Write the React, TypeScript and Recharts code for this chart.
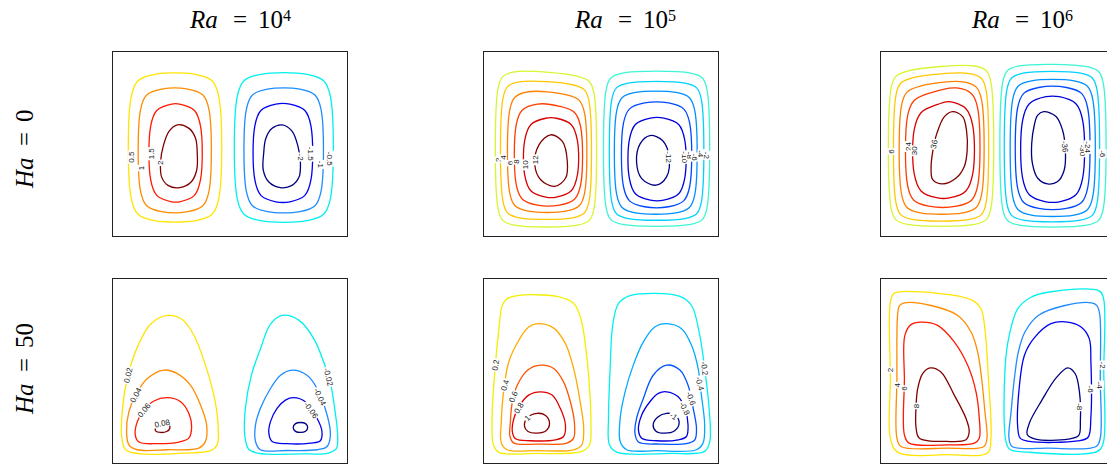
import React from "react";
import { ComposedChart, Line, Scatter, XAxis, YAxis } from "recharts";

type Label = { x: number; y: number; text: string; rot: number };

// Each contour: flat list of points x1,y1,x2,y2,... in panel units (0-100, y up)

// Ra = 10^4, Ha = 0
const r4h0Contours: number[][] = [
  [17.8, 87.9, 35.2, 87.9, 42.3, 84.4, 45.2, 75.9, 45.2, 20.3, 42.3, 11.8, 35.2, 8.3, 17.8, 8.3, 10.7, 11.8, 7.8, 20.3, 7.8, 75.9, 10.7, 84.4],
  [20.8, 79.8, 32.0, 79.8, 38.4, 76.6, 41.0, 68.8, 41.0, 24.2, 38.4, 16.4, 32.0, 13.2, 20.8, 13.2, 14.4, 16.4, 11.8, 24.2, 11.8, 68.8, 14.4, 76.6],
  [25.1, 71.7, 28.4, 71.7, 34.8, 68.2, 37.4, 59.7, 37.4, 30.6, 34.8, 22.1, 28.4, 18.6, 25.1, 18.6, 18.7, 22.1, 16.1, 30.6, 16.1, 59.7, 18.7, 68.2],
  [27.5, 60.4, 32.5, 58.5, 35.3, 53, 36, 45, 35.8, 36, 33.5, 29.5, 28.5, 26.3, 23.5, 27.5, 20.8, 32, 20.3, 40, 21.5, 49, 24, 57],
  [63.1, 87.9, 82.9, 87.9, 90.0, 84.4, 92.9, 75.9, 92.9, 20.3, 90.0, 11.8, 82.9, 8.3, 63.1, 8.3, 56.0, 11.8, 53.1, 20.3, 53.1, 75.9, 56.0, 84.4],
  [66.0, 79.8, 79.9, 79.8, 86.3, 76.6, 88.9, 68.8, 88.9, 24.2, 86.3, 16.4, 79.9, 13.2, 66.0, 13.2, 59.6, 16.4, 57.0, 24.2, 57.0, 68.8, 59.6, 76.6],
  [69.6, 71.7, 75.6, 71.7, 82.0, 68.2, 84.6, 59.7, 84.6, 30.6, 82.0, 22.1, 75.6, 18.6, 69.6, 18.6, 63.2, 22.1, 60.6, 30.6, 60.6, 59.7, 63.2, 68.2],
  [72.3, 60.4, 76.5, 57, 79, 49, 80.1, 40, 79.5, 32, 76.5, 27.5, 71.5, 26.3, 66.5, 29.5, 64.2, 36, 64.4, 45, 65.3, 53, 68, 58.5],
];
const r4h0Labels: Label[] = [
  { x: 7.8, y: 42.9, text: "0.5", rot: -90 },
  { x: 11.8, y: 36.9, text: "1", rot: -90 },
  { x: 16.1, y: 44.7, text: "1.5", rot: -90 },
  { x: 20.3, y: 39.8, text: "2", rot: -90 },
  { x: 80.1, y: 42.9, text: "-2", rot: 90 },
  { x: 84.6, y: 44.7, text: "-1.5", rot: 90 },
  { x: 88.9, y: 38.9, text: "-1", rot: 90 },
  { x: 92.9, y: 42.0, text: "-0.5", rot: 90 },
];

// Ra = 10^5, Ha = 0
const r5h0Contours: number[][] = [
  [13.0, 89.2, 40.0, 86.8, 45.0, 84.0, 47.0, 77.5, 47.0, 14.9, 45.0, 8.5, 40.0, 5.9, 13.0, 5.9, 8.0, 8.5, 6.0, 14.9, 6.0, 80.2, 8.0, 86.6],
  [15.1, 83.8, 37.9, 82.2, 42.9, 79.4, 44.9, 73.0, 44.9, 18.9, 42.9, 12.5, 37.9, 9.9, 15.1, 9.9, 10.1, 12.5, 8.1, 18.9, 8.1, 74.8, 10.1, 81.2],
  [19.0, 78.4, 35.0, 76.8, 40.7, 73.7, 43.0, 66.6, 43.0, 23.5, 40.7, 16.4, 35.0, 13.5, 19.0, 13.5, 13.3, 16.4, 11.0, 23.5, 11.0, 68.4, 13.3, 75.5],
  [22.8, 71.7, 32.3, 70.5, 38.7, 67.1, 41.3, 59.3, 41.3, 27.8, 38.7, 20.0, 32.3, 16.8, 22.8, 16.8, 16.4, 20.0, 13.8, 27.8, 13.8, 60.7, 16.4, 68.5],
  [26.4, 64.0, 30.9, 64.0, 37.3, 60.5, 39.9, 52.0, 39.9, 33.1, 37.3, 24.6, 30.9, 21.1, 26.4, 21.1, 20.0, 24.6, 17.4, 33.1, 17.4, 52.0, 20.0, 60.5],
  [28.5, 55.0, 33.5, 51.4, 35.6, 40.5, 34.9, 31.5, 30.2, 27.0, 24.2, 30.6, 21.7, 38.7, 23.5, 49.5],
  [59.2, 88.5, 88.3, 88.5, 93.3, 85.9, 95.3, 79.5, 95.3, 15.3, 93.3, 8.9, 88.3, 6.3, 59.2, 6.3, 54.2, 8.9, 52.2, 15.3, 52.2, 79.5, 54.2, 85.9],
  [61.6, 83.1, 85.9, 83.1, 90.9, 80.5, 92.9, 74.1, 92.9, 18.5, 90.9, 12.1, 85.9, 9.5, 61.6, 9.5, 56.6, 12.1, 54.6, 18.5, 54.6, 74.1, 56.6, 80.5],
  [64.7, 78.0, 82.1, 78.0, 87.8, 75.1, 90.1, 68.0, 90.1, 22.6, 87.8, 15.5, 82.1, 12.6, 64.7, 12.6, 59.0, 15.5, 56.7, 22.6, 56.7, 68.0, 59.0, 75.1],
  [68.6, 72.3, 78.9, 72.3, 85.3, 69.1, 87.9, 61.3, 87.9, 26.9, 85.3, 19.1, 78.9, 15.9, 68.6, 15.9, 62.2, 19.1, 59.6, 26.9, 59.6, 61.3, 62.2, 69.1],
  [71.1, 64.1, 76.8, 64.1, 83.2, 60.6, 85.8, 52.1, 85.8, 31.5, 83.2, 23.0, 76.8, 19.5, 71.1, 19.5, 64.7, 23.0, 62.1, 31.5, 62.1, 52.1, 64.7, 60.6],
  [70.9, 54.6, 76.3, 51.9, 79.1, 42.9, 78.0, 32.1, 73.5, 27.6, 67.4, 31.2, 65.2, 40.2, 66.7, 50.1],
];
const r5h0Labels: Label[] = [
  { x: 6.0, y: 41.4, text: "2", rot: -90 },
  { x: 8.1, y: 42.7, text: "4", rot: -90 },
  { x: 11.0, y: 39.6, text: "6", rot: -90 },
  { x: 13.8, y: 40.5, text: "8", rot: -90 },
  { x: 17.4, y: 38.7, text: "10", rot: -90 },
  { x: 21.7, y: 41.4, text: "12", rot: -90 },
  { x: 79.1, y: 42.9, text: "-12", rot: 90 },
  { x: 85.8, y: 42.9, text: "-10", rot: 90 },
  { x: 87.9, y: 43.8, text: "-8", rot: 90 },
  { x: 90.1, y: 42.9, text: "-6", rot: 90 },
  { x: 92.9, y: 44.7, text: "-4", rot: 90 },
  { x: 95.3, y: 43.8, text: "-2", rot: 90 },
];

// Ra = 10^6, Ha = 0
const r6h0Contours: number[][] = [
  [11.3, 89.6, 40.0, 92.4, 45.0, 89.8, 47.0, 83.4, 47.0, 15.3, 45.0, 8.9, 40.0, 6.3, 11.3, 6.3, 6.3, 8.9, 4.3, 15.3, 4.3, 80.2, 6.3, 86.6],
  [13.4, 86.0, 37.9, 88.3, 42.9, 85.7, 44.9, 79.3, 44.9, 18.0, 42.9, 11.6, 37.9, 9.0, 13.4, 9.0, 8.4, 11.6, 6.4, 18.0, 6.4, 76.6, 8.4, 83.0],
  [16.8, 81.5, 35.0, 83.8, 40.7, 80.9, 43.0, 73.8, 43.0, 22.6, 40.7, 15.5, 35.0, 12.6, 16.8, 12.6, 11.1, 15.5, 8.8, 22.6, 8.8, 71.1, 11.1, 78.2],
  [20.4, 77.5, 32.3, 80.5, 38.7, 77.3, 41.3, 69.5, 41.3, 27.2, 38.7, 19.4, 32.3, 16.2, 20.4, 16.2, 14.0, 19.4, 11.4, 27.2, 11.4, 65.6, 14.0, 73.4],
  [24.2, 71.5, 29.2, 73.0, 36.3, 69.2, 39.2, 60.0, 39.2, 33.7, 36.3, 24.5, 29.2, 20.7, 24.2, 20.7, 17.1, 24.5, 14.2, 33.7, 14.2, 57.8, 17.1, 67.0],
  [30.6, 67.6, 34.9, 64.9, 36.6, 56.8, 36.8, 46.0, 35.6, 37.8, 32.1, 31.5, 26.4, 28.3, 22.1, 30.6, 21.4, 36.9, 22.1, 45.9, 23.9, 55.9, 27.1, 64.9],
  [59.0, 92.4, 88.0, 92.0, 93.0, 89.4, 95.0, 83.0, 95.0, 14.9, 93.0, 8.5, 88.0, 5.9, 59.0, 5.9, 54.0, 8.5, 52.0, 14.9, 52.0, 83.4, 54.0, 89.8],
  [60.8, 88.5, 85.3, 88.5, 90.3, 85.9, 92.3, 79.5, 92.3, 17.6, 90.3, 11.2, 85.3, 8.6, 60.8, 8.6, 55.8, 11.2, 53.8, 17.6, 53.8, 79.5, 55.8, 85.9],
  [64.3, 84.3, 82.5, 84.3, 88.2, 81.4, 90.5, 74.3, 90.5, 21.4, 88.2, 14.3, 82.5, 11.4, 64.3, 11.4, 58.6, 14.3, 56.3, 21.4, 56.3, 74.3, 58.6, 81.4],
  [67.4, 80.7, 79.3, 80.7, 85.7, 77.5, 88.3, 69.7, 88.3, 26.0, 85.7, 18.2, 79.3, 15.0, 67.4, 15.0, 61.0, 18.2, 58.4, 26.0, 58.4, 69.7, 61.0, 77.5],
  [70.5, 75.7, 76.2, 75.7, 83.3, 71.9, 86.2, 62.7, 86.2, 31.6, 83.3, 22.4, 76.2, 18.6, 70.5, 18.6, 63.4, 22.4, 60.5, 31.6, 60.5, 62.7, 63.4, 71.9],
  [69.5, 67.6, 74.8, 65.0, 77.6, 57.5, 78.8, 46.7, 78.3, 35.9, 75.5, 29.6, 71.2, 28.3, 67.0, 31.4, 64.7, 39.5, 64.4, 50.3, 65.5, 60.2, 66.9, 65.6],
];
const r6h0Labels: Label[] = [
  { x: 4.3, y: 45.9, text: "6", rot: -90 },
  { x: 11.4, y: 48.6, text: "24", rot: -90 },
  { x: 14.2, y: 46.3, text: "30", rot: -90 },
  { x: 22.6, y: 49.9, text: "36", rot: -78 },
  { x: 78.6, y: 48.6, text: "-36", rot: 84 },
  { x: 86.2, y: 46.5, text: "-30", rot: 90 },
  { x: 88.3, y: 48.3, text: "-24", rot: 90 },
  { x: 94.8, y: 44.7, text: "-6", rot: 90 },
];

// Ra = 10^4, Ha = 50
const r4h50Contours: number[][] = [
  [23.2, 80.2, 29.6, 78.0, 34.6, 69.4, 39.5, 53.2, 43.1, 36.9, 44.8, 22.5, 44.5, 9.9, 41.7, 6.7, 30.3, 5.4, 11.8, 5.0, 5.4, 7.2, 3.7, 14.4, 4.1, 29.7, 6.4, 47.7, 10.7, 63.8, 16.1, 75.5],
  [21.8, 50.5, 27.5, 48.6, 33.1, 42.3, 37.4, 31.5, 40.0, 20.7, 39.5, 11.7, 36.7, 8.1, 23.2, 7.2, 10.4, 7.2, 6.8, 9.9, 5.8, 17.1, 6.8, 27.9, 9.7, 36.9, 14.7, 45.9],
  [23.2, 35.5, 28.9, 33.3, 32.4, 27.0, 33.6, 19.8, 32.4, 13.5, 28.2, 11.4, 18.9, 10.5, 11.1, 11.4, 9.5, 15.3, 10.4, 22.5, 13.2, 28.8, 17.5, 33.7],
  [18.2, 19.3, 19.2, 21.1, 21.8, 21.6, 23.9, 20.7, 24.3, 18.9, 22.9, 17.1, 20.3, 16.6, 18.2, 17.5],
  [72.3, 80.2, 79.5, 77.5, 85.8, 67.6, 90.0, 55.0, 93.0, 43.0, 94.7, 30.0, 96.0, 15.0, 95.5, 8.0, 92.0, 5.4, 80.0, 5.0, 62.5, 5.2, 58.0, 7.5, 56.3, 15.0, 56.6, 30.0, 59.2, 48.0, 63.0, 62.0, 67.3, 75.5],
  [76.5, 50.5, 82.9, 47.7, 87.2, 40.5, 91.5, 26.1, 92.9, 15.3, 91.5, 9.0, 87.2, 7.2, 74.4, 6.8, 63.0, 7.2, 60.9, 11.7, 60.9, 20.7, 63.0, 29.7, 67.3, 40.5, 71.6, 47.7],
  [77.2, 35.5, 82.2, 33.3, 87.2, 24.3, 89.3, 17.1, 88.6, 12.1, 84.4, 10.8, 74.4, 10.5, 68.0, 11.7, 66.6, 16.2, 67.3, 22.5, 70.1, 29.7, 73.7, 34.2],
  [77.0, 19.3, 78.0, 21.4, 80.1, 22.0, 82.3, 21.4, 83.2, 19.3, 82.3, 17.2, 80.1, 16.6, 78.0, 17.2],
];
const r4h50Labels: Label[] = [
  { x: 6.4, y: 47.7, text: "0.02", rot: -76 },
  { x: 9.7, y: 36.9, text: "0.04", rot: -61 },
  { x: 13.2, y: 28.8, text: "0.06", rot: -51 },
  { x: 21.0, y: 21.6, text: "0.08", rot: -12 },
  { x: 92.1, y: 46.8, text: "-0.02", rot: 76 },
  { x: 88.5, y: 36.0, text: "-0.04", rot: 65 },
  { x: 84.7, y: 28.8, text: "-0.06", rot: 55 },
];

// Ra = 10^5, Ha = 50
const r5h50Contours: number[][] = [
  [14.2, 91.0, 31.2, 90.5, 38.3, 86.8, 41.4, 78.4, 43.7, 60.4, 45.1, 40.5, 45.7, 22.5, 45.1, 9.9, 41.8, 6.3, 22.7, 5.2, 6.4, 5.8, 4.0, 9.9, 3.5, 26.1, 4.5, 47.7, 6.4, 73.0, 7.8, 85.6, 9.8, 89.2],
  [23.4, 75.7, 29.8, 73.3, 34.8, 64.9, 38.3, 51.4, 41.1, 33.3, 42.6, 18.9, 41.8, 9.9, 38.3, 7.2, 22.7, 6.7, 9.9, 7.2, 7.4, 10.8, 7.4, 22.5, 8.2, 36.9, 10.6, 55.0, 14.9, 66.7, 19.1, 73.9],
  [24.1, 53.2, 29.8, 51.4, 34.0, 44.1, 36.9, 33.3, 38.6, 22.5, 38.3, 13.5, 35.5, 10.8, 22.7, 10.3, 12.8, 10.8, 11.1, 14.4, 11.3, 22.5, 11.9, 31.5, 14.3, 42.5, 19.0, 50.8],
  [24.1, 38.7, 29.1, 36.9, 32.6, 29.7, 34.8, 20.7, 34.0, 14.4, 30.5, 12.6, 19.9, 12.1, 13.5, 13.2, 12.1, 17.1, 12.8, 24.3, 14.9, 30.6, 19.1, 36.9],
  [22.7, 27.0, 26.3, 25.8, 28.0, 21.6, 26.5, 17.5, 22.7, 16.2, 18.8, 17.1, 17.3, 20.0, 18.5, 24.5],
  [62.4, 91.0, 83.7, 90.6, 88.7, 85.6, 92.2, 69.4, 94.3, 51.4, 96.2, 29.7, 96.5, 11.7, 94.3, 6.3, 79.4, 5.2, 56.7, 5.9, 53.6, 9.9, 53.2, 24.3, 53.9, 51.4, 55.0, 74.8, 57.4, 86.5],
  [78.0, 75.7, 84.4, 73.0, 88.7, 64.0, 91.5, 51.4, 92.9, 36.9, 94.3, 20.7, 93.6, 10.8, 90.8, 7.2, 73.8, 6.7, 61.0, 7.2, 58.2, 11.7, 58.2, 24.3, 60.3, 38.7, 63.8, 53.2, 68.1, 65.8, 73.0, 73.9],
  [78.0, 53.2, 83.7, 50.5, 87.2, 42.3, 89.4, 29.7, 90.8, 18.9, 90.1, 12.6, 86.5, 10.5, 75.2, 10.3, 66.0, 11.4, 64.5, 16.2, 65.2, 24.3, 68.1, 35.1, 72.3, 47.7],
  [78.0, 38.7, 83.0, 36.0, 85.8, 29.7, 87.2, 20.7, 86.5, 14.4, 83.0, 12.6, 73.8, 12.1, 67.4, 13.5, 66.0, 18.0, 67.4, 26.1, 70.9, 33.3, 74.5, 37.8],
  [78.0, 27.0, 81.8, 25.8, 83.4, 22.0, 81.5, 17.5, 77.0, 16.2, 73.5, 17.3, 72.3, 20.7, 74.3, 25.0],
];
const r5h50Labels: Label[] = [
  { x: 4.9, y: 53.2, text: "0.2", rot: -82 },
  { x: 8.9, y: 42.3, text: "0.4", rot: -74 },
  { x: 12.4, y: 36.0, text: "0.6", rot: -68 },
  { x: 14.8, y: 29.9, text: "0.8", rot: -58 },
  { x: 18.5, y: 24.5, text: "1", rot: -45 },
  { x: 94.3, y: 51.4, text: "-0.2", rot: 82 },
  { x: 92.3, y: 43.2, text: "-0.4", rot: 75 },
  { x: 88.5, y: 35.1, text: "-0.6", rot: 70 },
  { x: 85.8, y: 29.7, text: "-0.8", rot: 62 },
  { x: 81.0, y: 25.5, text: "-1", rot: 35 },
];

// Ra = 10^6, Ha = 50
const r6h50Contours: number[][] = [
  [10.0, 93.2, 38.5, 88.8, 42.7, 83.8, 44.4, 72.9, 45.9, 45.9, 47.0, 13.5, 45.6, 5.6, 28.5, 4.5, 7.1, 5.9, 4.0, 13.5, 4.0, 45.9, 4.0, 87.4, 5.6, 92.2],
  [10.0, 87.0, 21.4, 85.6, 32.8, 80.2, 38.5, 71.2, 41.3, 60.4, 43.0, 45.9, 44.4, 27.9, 45.3, 13.5, 44.0, 9.0, 28.5, 8.1, 8.5, 9.0, 6.8, 13.5, 6.8, 45.9, 7.1, 80.5, 7.9, 85.5],
  [17.1, 76.6, 24.2, 74.8, 31.3, 65.8, 37.0, 53.2, 40.6, 38.7, 42.0, 24.3, 42.0, 13.5, 39.9, 10.8, 28.5, 9.9, 12.0, 10.8, 10.0, 15.3, 10.0, 45.0, 10.2, 69.4, 12.8, 75.2],
  [21.1, 51.7, 25.6, 49.5, 31.3, 36.9, 36.3, 24.3, 37.7, 17.1, 36.3, 12.6, 28.0, 11.7, 16.4, 13.5, 15.0, 18.9, 15.0, 31.5, 15.7, 40.5, 17.8, 48.6],
  [64.1, 90.1, 71.2, 92.8, 93.0, 93.7, 95.0, 90.0, 95.2, 50.0, 95.0, 11.0, 92.5, 6.3, 62.7, 5.9, 55.0, 7.5, 53.4, 11.7, 53.0, 51.4, 54.8, 69.4, 58.4, 83.8],
  [78.6, 85.6, 90.0, 87.0, 92.3, 85.5, 93.5, 80.5, 93.7, 45.9, 93.7, 13.5, 92.0, 9.0, 71.5, 8.1, 56.0, 9.0, 54.7, 13.5, 55.6, 27.9, 57.0, 45.9, 58.7, 60.4, 61.5, 71.2, 67.2, 80.2],
  [72.6, 75.7, 79.8, 76.6, 85.5, 73.9, 89.0, 67.6, 89.7, 55.0, 89.7, 25.0, 88.5, 14.0, 84.0, 12.0, 63.5, 11.7, 59.5, 13.5, 58.4, 20.0, 59.0, 40.0, 61.3, 58.6, 65.5, 68.0],
  [79.8, 51.7, 83.0, 48.5, 84.8, 38.7, 85.2, 22.5, 84.5, 15.0, 80.0, 13.0, 66.0, 13.0, 62.5, 15.5, 63.5, 22.0, 68.7, 34.0, 75.0, 46.5],
];
const r6h50Labels: Label[] = [
  { x: 4.0, y: 50.5, text: "2", rot: -90 },
  { x: 6.8, y: 42.3, text: "4", rot: -90 },
  { x: 10.0, y: 40.5, text: "6", rot: -90 },
  { x: 15.0, y: 31.0, text: "8", rot: -90 },
  { x: 85.0, y: 30.6, text: "-8", rot: 90 },
  { x: 89.7, y: 40.2, text: "-6", rot: 90 },
  { x: 93.7, y: 42.3, text: "-4", rot: 90 },
  { x: 94.8, y: 53.2, text: "-2", rot: 90 },
];

// colours per contour, same order as the contour lists
const jet4 = ["#ffe400", "#ff8c00", "#ff1a00", "#800000", "#00f0f0", "#1e8cff", "#0000f0", "#000080"];
const jet5 = ["#f0f000", "#ffaa00", "#ff5500", "#e00000", "#800000", "#00f0f0", "#00aaff", "#0055ff", "#0000e0", "#000080"];
const jet6 = ["#d8f530", "#ffc800", "#ff8000", "#ff3c00", "#d80000", "#800000", "#3cf5d2", "#00d2ff", "#0090ff", "#0048ff", "#0000dc", "#000080"];

// closed centripetal Catmull-Rom through the contour points (pixel space)
const closedCurve = (context: any) => {
  let pts: number[][] = [];
  return {
    areaStart() {},
    areaEnd() {},
    lineStart() {
      pts = [];
    },
    point(x: number, y: number) {
      pts.push([+x, +y]);
    },
    lineEnd() {
      const n = pts.length;
      if (!n) return;
      const d = (a: number[], b: number[]) => Math.sqrt(Math.hypot(b[0] - a[0], b[1] - a[1]));
      context.moveTo(pts[0][0], pts[0][1]);
      for (let i = 0; i < n; i++) {
        const p0 = pts[(i - 1 + n) % n];
        const p1 = pts[i];
        const p2 = pts[(i + 1) % n];
        const p3 = pts[(i + 2) % n];
        const l01a = d(p0, p1), l12a = d(p1, p2), l23a = d(p2, p3);
        const l01 = l01a * l01a, l12 = l12a * l12a, l23 = l23a * l23a;
        let c1x = p1[0], c1y = p1[1], c2x = p2[0], c2y = p2[1];
        if (l01a > 1e-6) {
          const a = 2 * l01 + 3 * l01a * l12a + l12;
          const m = 3 * l01a * (l01a + l12a);
          c1x = (p1[0] * a - p0[0] * l12 + p2[0] * l01) / m;
          c1y = (p1[1] * a - p0[1] * l12 + p2[1] * l01) / m;
        }
        if (l23a > 1e-6) {
          const b = 2 * l23 + 3 * l23a * l12a + l12;
          const m = 3 * l23a * (l23a + l12a);
          c2x = (p2[0] * b + p1[0] * l23 - p3[0] * l12) / m;
          c2y = (p2[1] * b + p1[1] * l23 - p3[1] * l12) / m;
        }
        context.bezierCurveTo(c1x, c1y, c2x, c2y, p2[0], p2[1]);
      }
      context.closePath();
    },
  };
};

const toPoints = (flat: number[]) => {
  const out: { x: number; y: number }[] = [];
  for (let i = 0; i < flat.length; i += 2) out.push({ x: flat[i], y: flat[i + 1] });
  return out;
};

const charW: Record<string, number> = { ".": 2.2, "-": 2.7 };

const ContourLabel = (props: any) => {
  const { cx, cy, payload } = props;
  if (cx == null || cy == null || !payload) return <g />;
  const w = String(payload.text).split("").reduce((s: number, c: string) => s + (charW[c] ?? 4.45), 0) + 2;
  return (
    <g transform={`translate(${cx},${cy}) rotate(${payload.rot})`}>
      <rect x={-w / 2} y={-3.8} width={w} height={7.6} fill="#fff" />
      <text
        x={0}
        y={2.9}
        textAnchor="middle"
        fontSize={8}
        fontFamily="'Liberation Sans', Arial, sans-serif"
        fill="#222"
      >
        {payload.text}
      </text>
    </g>
  );
};

const PW = 234;
const PH = 184;

const Panel = ({ left, top, contours, colors, labels }: { left: number; top: number; contours: number[][]; colors: string[]; labels: Label[] }) => (
  <div style={{ position: "absolute", left, top, width: PW, height: PH, border: "1px solid #222", background: "#fff" }}>
    <ComposedChart width={PW} height={PH} margin={{ top: 0, right: 0, bottom: 0, left: 0 }}>
      <XAxis type="number" dataKey="x" domain={[0, 100]} hide allowDataOverflow />
      <YAxis type="number" dataKey="y" domain={[0, 100]} hide allowDataOverflow />
      {contours.map((c, i) => (
        <Line
          key={i}
          data={toPoints(c)}
          dataKey="y"
          type={closedCurve as any}
          stroke={colors[i]}
          strokeWidth={1.3}
          dot={false}
          activeDot={false}
          isAnimationActive={false}
        />
      ))}
      <Scatter data={labels} dataKey="y" shape={ContourLabel} isAnimationActive={false} />
    </ComposedChart>
  </div>
);

const serif = "'Liberation Serif', 'DejaVu Serif', serif";

const Title = ({ x, exp }: { x: number; exp: string }) => (
  <text y={28} fontFamily={serif} fontSize={25} fill="#000">
    <tspan x={x} fontStyle="italic">Ra</tspan>
    <tspan x={x + 43}>=</tspan>
    <tspan x={x + 68}>10</tspan>
    <tspan x={x + 93} dy={-7} fontSize={16}>{exp}</tspan>
  </text>
);

const RowLabel = ({ y, value }: { y: number; value: string }) => (
  <text transform={`translate(33,${y}) rotate(-90)`} fontFamily={serif} fontSize={25} fill="#000">
    <tspan x={0} fontStyle="italic">Ha</tspan>
    <tspan x={42}>=</tspan>
    <tspan x={66}>{value}</tspan>
  </text>
);

export default function App() {
  return (
    <div style={{ position: "absolute", left: 0, top: 0, width: 1107, height: 466, overflow: "hidden", background: "#fff" }}>
      <svg width={1107} height={466} style={{ position: "absolute", left: 0, top: 0 }}>
        <Title x={190} exp="4" />
        <Title x={575} exp="5" />
        <Title x={972} exp="6" />
        <RowLabel y={188} value="0" />
        <RowLabel y={414} value="50" />
      </svg>
      <Panel left={112} top={51} contours={r4h0Contours} colors={jet4} labels={r4h0Labels} />
      <Panel left={483} top={51} contours={r5h0Contours} colors={jet6} labels={r5h0Labels} />
      <Panel left={880} top={51} contours={r6h0Contours} colors={jet6} labels={r6h0Labels} />
      <Panel left={112} top={278} contours={r4h50Contours} colors={jet4} labels={r4h50Labels} />
      <Panel left={483} top={278} contours={r5h50Contours} colors={jet5} labels={r5h50Labels} />
      <Panel left={880} top={278} contours={r6h50Contours} colors={jet4} labels={r6h50Labels} />
    </div>
  );
}
